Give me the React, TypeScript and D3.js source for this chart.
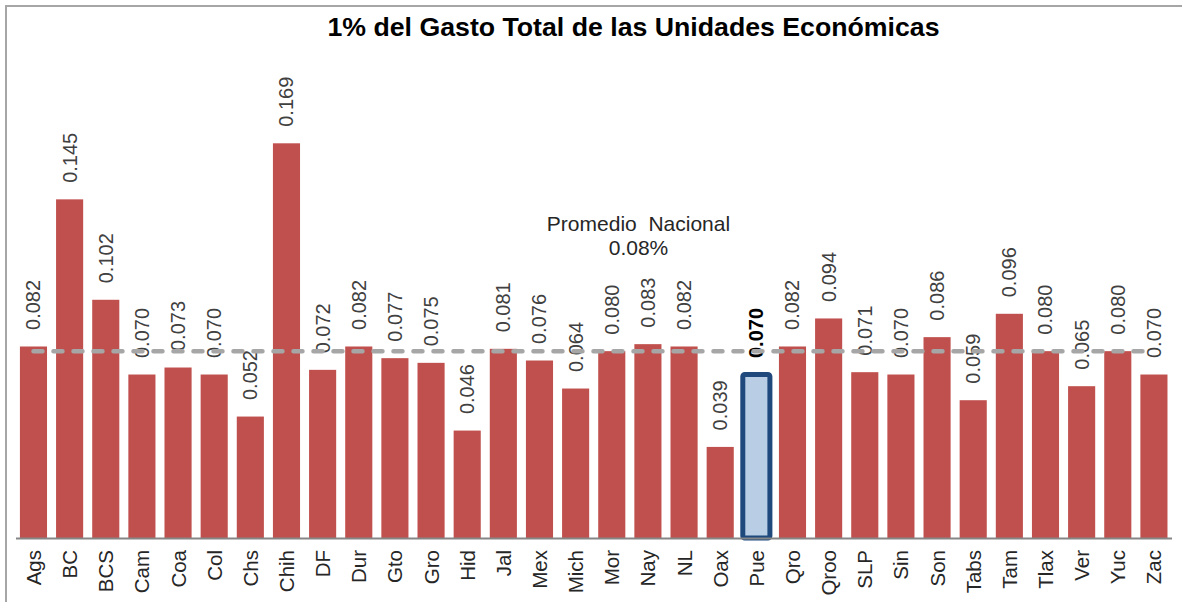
import React from "react";
import * as d3 from "d3";

const categories = ["Ags","BC","BCS","Cam","Coa","Col","Chs","Chih","DF","Dur","Gto","Gro","Hid","Jal","Mex","Mich","Mor","Nay","NL","Oax","Pue","Qro","Qroo","SLP","Sin","Son","Tabs","Tam","Tlax","Ver","Yuc","Zac"];
const values = [0.082,0.145,0.102,0.070,0.073,0.070,0.052,0.169,0.072,0.082,0.077,0.075,0.046,0.081,0.076,0.064,0.080,0.083,0.082,0.039,0.070,0.082,0.094,0.071,0.070,0.086,0.059,0.096,0.080,0.065,0.080,0.070];
const highlight = "Pue";
const nationalAverage = 0.08;
const title = "1% del Gasto Total de las Unidades Económicas";
const avgLabel = ["Promedio  Nacional", "0.08%"];

const W = 1182;
const H = 602;
const FONT = "'Liberation Sans', Arial, sans-serif";

export default function App() {
  const x = d3.scaleBand<string>().domain(categories).range([15.4, 1172]).paddingInner(0.25).paddingOuter(0.125);
  const y = d3.scaleLinear().domain([0, 0.169]).range([538, 143.3]);
  const bw = x.bandwidth();
  const cx = (c: string) => (x(c) as number) + bw / 2;

  return (
    <svg width={W} height={H} style={{ position: "absolute", left: 0, top: 0, background: "#fff" }} fontFamily={FONT}>
      <rect x={0} y={0} width={W} height={H} fill="#fff" />
      <rect x={6} y={6} width={1300} height={700} fill="none" stroke="#a6a6a6" strokeWidth={2} />
      <text x={633.5} y={36} textAnchor="middle" fontSize={26.7} fontWeight="bold" fill="#000">{title}</text>

      {categories.map((c, i) => {
        const v = values[i];
        const isH = c === highlight;
        return (
          <rect key={c} x={x(c)} y={y(v)} width={bw} height={y(0) - y(v)}
            fill={isH ? "#b9cde5" : "#c0504d"}
            stroke={isH ? "#1f497d" : "none"} strokeWidth={isH ? 5 : 0} rx={isH ? 2 : 0} />
        );
      })}

      {categories.map((c, i) => {
        const v = values[i];
        const isH = c === highlight;
        const px = cx(c) + 7;
        const py = y(v) - 16.5;
        return (
          <text key={"v" + c} transform={`translate(${px},${py}) rotate(-90)`} textAnchor="start"
            fontSize={20} fill={isH ? "#000" : "#404040"} fontWeight={isH ? "bold" : "normal"}>
            {d3.format(".3f")(v)}
          </text>
        );
      })}

      <line x1={16} x2={1172} y1={538.5} y2={538.5} stroke="#868686" strokeWidth={2} />

      {categories.map((c) => (
        <text key={"c" + c} transform={`translate(${cx(c) + 7.5},550) rotate(-90)`} textAnchor="end"
          fontSize={20.5} fill="#262626">{c}</text>
      ))}

      <line x1={cx(categories[0])} x2={cx(categories[categories.length - 1]) - 4} y1={y(nationalAverage)} y2={y(nationalAverage)}
        stroke="#a6a6a6" strokeWidth={4.5} strokeDasharray="9 11" strokeLinecap="round" />

      <text x={638.5} y={231} textAnchor="middle" fontSize={21} fill="#262626" style={{ whiteSpace: "pre" }}>{avgLabel[0]}</text>
      <text x={638.5} y={255} textAnchor="middle" fontSize={21} fill="#262626">{avgLabel[1]}</text>
    </svg>
  );
}
